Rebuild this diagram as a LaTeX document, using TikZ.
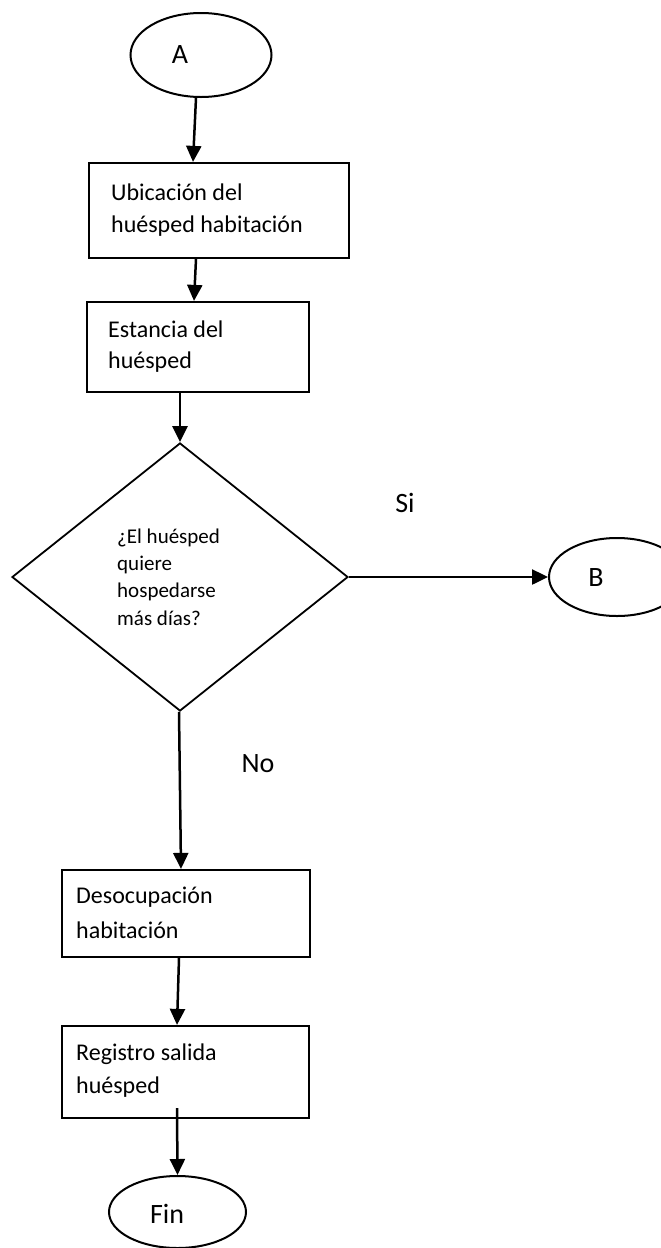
\documentclass[tikz,border=0pt]{standalone}
\usepackage{fontspec}
\setmainfont{Carlito}
\usetikzlibrary{arrows.meta,shapes.geometric}
\begin{document}
\begin{tikzpicture}[x=1pt,y=-1pt,
 term/.style={draw,ellipse,line width=2pt,inner sep=0pt},
 proc/.style={draw,rectangle,line width=2.2pt,inner sep=0pt},
 dec/.style={draw,diamond,line width=1.8pt,inner sep=0pt},
 big/.style={font=\fontsize{28}{34}\selectfont,inner sep=0pt},
 txt/.style={font=\fontsize{24}{32}\selectfont,inner sep=0pt,anchor=base west},
 dtxt/.style={font=\fontsize{21}{27}\selectfont,inner sep=0pt,anchor=base west},
 arr/.style={line width=2.5pt,-{Triangle[length=16pt,width=15pt]}},
]
\useasboundingbox (0,0) rectangle (661,1248);
% start
\node[term,minimum width=141pt,minimum height=84pt] (A) at (201,55) {};
\node[big] (At) at (180,55) {A};
% box 1
\node[proc,minimum width=260pt,minimum height=95pt] (b1) at (219,210.5) {};
\node[txt] (b1a) at (111,200) {Ubicación del};
\node[txt] (b1b) at (111,232) {huésped habitación};
% box 2
\node[proc,minimum width=222pt,minimum height=90pt] (b2) at (198,347) {};
\node[txt] (b2a) at (108,337) {Estancia del};
\node[txt] (b2b) at (108,368) {huésped};
% decision
\node[dec,minimum width=336pt,minimum height=268pt] (D) at (180,577) {};
\node[dtxt] (d1) at (117,543) {¿El huésped};
\node[dtxt] (d2) at (117,570) {quiere};
\node[dtxt] (d3) at (117,597) {hospedarse};
\node[dtxt] (d4) at (117,625) {más días?};
% B connector
\node[term,minimum width=136pt,minimum height=78pt] (B) at (617,577) {};
\node[big] (Bt) at (596,578) {B};
\node[big] (si) at (405,503) {Si};
\node[big] (no) at (258,764) {No};
% box 3
\node[proc,minimum width=248pt,minimum height=87pt] (b3) at (186,913.5) {};
\node[txt] (b3a) at (76,903) {Desocupación};
\node[txt] (b3b) at (76,938) {habitación};
% box 4
\node[proc,minimum width=247pt,minimum height=92pt] (b4) at (185.5,1072) {};
\node[txt] (b4a) at (76,1060) {Registro salida};
\node[txt] (b4b) at (76,1093) {huésped};
% end
\node[term,minimum width=137pt,minimum height=72pt] (F) at (177.5,1212) {};
\node[big] (Ft) at (167,1214) {Fin};
% connectors
\draw[arr] ([xshift=-5pt]A.south) -- ([xshift=-26pt]b1.north);
\draw[arr] ([xshift=-23pt]b1.south) -- ([xshift=-4pt]b2.north);
\draw[arr] ([xshift=-18pt]b2.south) -- (D.north);
\draw[arr] (D.east) -- (B.west);
\draw[arr] ([xshift=-1pt]D.south) -- ([xshift=-5pt]b3.north);
\draw[arr] ([xshift=-7pt]b3.south) -- ([xshift=-8.5pt]b4.north);
\draw[arr] ([xshift=-8.5pt,yshift=11pt]b4.south) -- (F.north);
\end{tikzpicture}
\end{document}
